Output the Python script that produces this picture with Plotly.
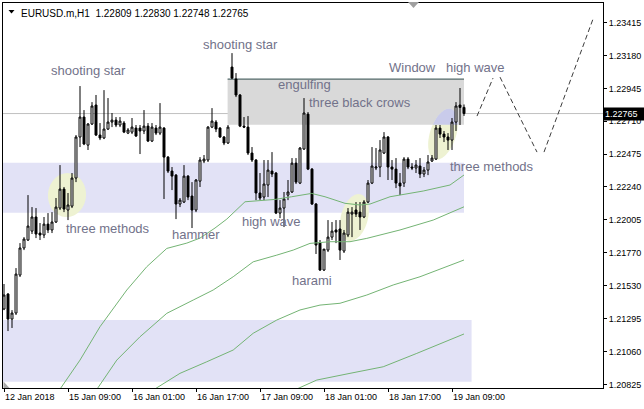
import math
import plotly.graph_objects as go

# ---------------- data ----------------
bars = list(range(116))
opens = [1.21365,1.21472,1.21293,1.21336,1.21608,1.21802,1.21859,1.21923,1.22024,1.21909,
         1.21895,1.21973,1.21931,1.21988,1.22088,1.22224,1.22074,1.22102,1.22303,1.22597,
         1.22740,1.22539,1.22690,1.22826,1.22611,1.22590,1.22654,1.22704,1.22718,1.22683,
         1.22697,1.22625,1.22632,1.22661,1.22661,1.22640,1.22675,1.22568,1.22661,1.22625,
         1.22661,1.22453,1.22353,1.22324,1.22117,1.22131,1.22317,1.22174,1.22074,1.22281,
         1.22425,1.22432,1.22668,1.22704,1.22661,1.22597,1.22554,1.23098,1.23012,1.22898,
         1.22675,1.22668,1.22482,1.22432,1.22196,1.22167,1.22253,1.22353,1.22339,1.22052,
         1.22088,1.22181,1.22203,1.22410,1.22267,1.22511,1.22761,1.22367,1.22117,1.21837,
         1.21644,1.21787,1.21880,1.21931,1.21938,1.21780,1.21895,1.22045,1.22074,1.22059,
         1.22024,1.22131,1.22267,1.22375,1.22382,1.22482,1.22597,1.22382,1.22367,1.22267,
         1.22267,1.22439,1.22382,1.22375,1.22389,1.22332,1.22360,1.22425,1.22439,1.22661,
         1.22618,1.22597,1.22575,1.22704,1.22826,1.22809]
highs = [1.21544,1.21479,1.21357,1.21658,1.21837,1.21880,1.22181,1.22095,1.22088,1.21981,
         1.22024,1.22052,1.22059,1.22160,1.22396,1.22239,1.22196,1.22339,1.22611,1.22962,
         1.22790,1.22697,1.22847,1.22898,1.22697,1.22933,1.22876,1.22769,1.22740,1.22740,
         1.22711,1.22661,1.22733,1.22683,1.22683,1.22790,1.22697,1.22697,1.22683,1.22840,
         1.22668,1.22461,1.22382,1.22332,1.22160,1.22396,1.22324,1.22274,1.22296,1.22453,
         1.22468,1.22675,1.22804,1.22718,1.22668,1.22604,1.22683,1.23198,1.23055,1.22905,
         1.22740,1.22747,1.22525,1.22439,1.22339,1.22432,1.22432,1.22489,1.22346,1.22145,
         1.22203,1.22289,1.22446,1.22446,1.22525,1.22876,1.22776,1.22375,1.22124,1.21859,
         1.21787,1.22002,1.21988,1.22002,1.22002,1.21931,1.22088,1.22095,1.22131,1.22131,
         1.22145,1.22289,1.22525,1.22518,1.22575,1.22632,1.22604,1.22432,1.22446,1.22339,
         1.22453,1.22453,1.22410,1.22432,1.22446,1.22382,1.22468,1.22468,1.22683,1.22683,
         1.22640,1.22625,1.22733,1.22847,1.22948,1.22830]
lows = [1.21357,1.21207,1.21229,1.21322,1.21594,1.21787,1.21852,1.21902,1.21873,1.21859,
        1.21873,1.21909,1.21909,1.21981,1.22074,1.22059,1.22002,1.22088,1.22274,1.22525,
        1.22539,1.22504,1.22683,1.22604,1.22575,1.22582,1.22647,1.22668,1.22668,1.22668,
        1.22625,1.22618,1.22618,1.22597,1.22475,1.22618,1.22561,1.22561,1.22611,1.22611,
        1.22153,1.22339,1.22217,1.22009,1.22095,1.22124,1.22145,1.21945,1.22059,1.22239,
        1.22410,1.22418,1.22661,1.22632,1.22590,1.22539,1.22547,1.23012,1.22883,1.22668,
        1.22661,1.22468,1.22418,1.22145,1.22145,1.22145,1.22167,1.22310,1.22045,1.22016,
        1.21952,1.22145,1.22196,1.22260,1.22260,1.22504,1.22360,1.22110,1.21759,1.21637,
        1.21637,1.21773,1.21859,1.21837,1.21716,1.21766,1.21880,1.21880,1.22024,1.21931,
        1.22016,1.22124,1.22260,1.22360,1.22310,1.22475,1.22289,1.22289,1.22231,1.22181,
        1.22239,1.22367,1.22360,1.22339,1.22303,1.22310,1.22324,1.22418,1.22432,1.22590,
        1.22561,1.22504,1.22504,1.22640,1.22683,1.22748]
closes = [1.21465,1.21293,1.21336,1.21615,1.21802,1.21866,1.21959,1.22024,1.21902,1.21895,
          1.21973,1.21931,1.21988,1.22095,1.22224,1.22081,1.22110,1.22303,1.22597,1.22740,
          1.22547,1.22690,1.22819,1.22611,1.22590,1.22654,1.22704,1.22718,1.22683,1.22711,
          1.22632,1.22647,1.22668,1.22604,1.22640,1.22675,1.22568,1.22668,1.22625,1.22668,
          1.22453,1.22353,1.22317,1.22117,1.22145,1.22317,1.22167,1.22074,1.22289,1.22432,
          1.22439,1.22668,1.22711,1.22654,1.22597,1.22554,1.22668,1.23019,1.22898,1.22675,
          1.22668,1.22482,1.22432,1.22196,1.22160,1.22260,1.22360,1.22332,1.22052,1.22088,
          1.22153,1.22203,1.22410,1.22274,1.22518,1.22769,1.22367,1.22117,1.21823,1.21644,
          1.21794,1.21880,1.21923,1.21916,1.21787,1.21909,1.22059,1.22059,1.22045,1.22024,
          1.22131,1.22267,1.22389,1.22382,1.22504,1.22597,1.22382,1.22367,1.22267,1.22246,
          1.22439,1.22382,1.22375,1.22396,1.22332,1.22360,1.22418,1.22446,1.22661,1.22618,
          1.22597,1.22575,1.22704,1.22819,1.22809,1.22765]

ma_a_idx = [13.5, 19, 24, 30.7, 35.7, 40.7, 45.7, 49, 52.75, 55.7, 60.25, 67.75, 71.9, 76.9,
            80.25, 85.25, 89, 91.5, 96.5, 104.8, 111.5, 115]
ma_a_val = [1.20770, 1.20999, 1.21238, 1.21501, 1.21668, 1.21799, 1.21837, 1.21873, 1.21945,
            1.22009, 1.22133, 1.22150, 1.22169, 1.22193, 1.22169, 1.22122, 1.22110, 1.22117,
            1.22169, 1.22210, 1.22253, 1.22325]
ma_b_idx = [22.75, 28.2, 34, 40.7, 47.3, 52.3, 57.3, 62.3, 68.2, 72.3, 76.5, 81.5, 86.5, 90.7,
            99, 107.3, 115]
ma_b_val = [1.20770, 1.20999, 1.21166, 1.21334, 1.21429, 1.21501, 1.21596, 1.21703, 1.21751,
            1.21787, 1.21835, 1.21847, 1.21847, 1.21871, 1.21931, 1.22002, 1.22097]
ma_c_idx = [36.5, 44, 50.7, 57.3, 62.3, 68.2, 74, 79, 84, 90.7, 97.3, 104, 115]
ma_c_val = [1.20770, 1.20904, 1.20987, 1.21071, 1.21191, 1.21286, 1.21358, 1.21393, 1.21406,
            1.21465, 1.21537, 1.21596, 1.21716]
ma_d_idx = [71.5, 78.2, 86.5, 94.8, 103.2, 115]
ma_d_val = [1.20770, 1.20856, 1.20904, 1.20951, 1.21047, 1.21186]

zigzag_segments = [
    ([118.25, 122.25], [1.22747, 1.23019]),
    ([124.0, 133.25], [1.23026, 1.22489]),
    ([135.0, 147.25], [1.22489, 1.23442]),
]

x_tick_idx = [0, 16, 32, 48, 64, 80, 96, 112]
x_tick_text = ["12 Jan 2018", "15 Jan 09:00", "16 Jan 01:00", "16 Jan 17:00",
               "17 Jan 09:00", "18 Jan 01:00", "18 Jan 17:00", "19 Jan 09:00"]
y_tick_vals = [1.23415, 1.23180, 1.22945, 1.22710, 1.22475, 1.22240, 1.22005,
               1.21770, 1.21530, 1.21295, 1.21060, 1.20825]

last_price = 1.22765
title_text = "EURUSD.m,H1\u00a0\u00a01.22809 1.22830 1.22748 1.22765"

# zones: (x0 idx, x1 idx, y0 price, y1 price)
window_zone = (55.9, 115.0, 1.22685, 1.23012)
band_zones = [(-2, 115.0, 1.22054, 1.22413), (-2, 116.9, 1.20844, 1.21286)]

# pattern labels: (text, bar idx, price)
labels = [
    ("shooting star", 21.2, 1.23071),
    ("shooting star", 59.1, 1.23257),
    ("engulfing", 75.1, 1.22971),
    ("three black crows", 89.0, 1.22842),
    ("Window", 102.0, 1.23095),
    ("high wave", 117.9, 1.23095),
    ("three methods", 122.0, 1.22385),
    ("three methods", 26.0, 1.21939),
    ("hammer", 48.1, 1.21896),
    ("high wave", 66.9, 1.21991),
    ("harami", 77.1, 1.21567),
]

# highlight ellipses: (center idx, center price, semi-major px, semi-minor px, tilt deg)
ellipses = [
    (15.75, 1.22181, 22, 19, 5),
    (87.6, 1.22020, 24, 13.5, 15),
    (109.75, 1.22618, 26.5, 13, 18),
]

# ---------------- layout geometry ----------------
W, H = 644, 409
ML, MR, MT, MB = 3, 41, 3, 21
XR = [-0.25, 149.75]
YR = [1.20799, 1.23557]
PW, PH = W - ML - MR, H - MT - MB
PX_PER_BAR = PW / (XR[1] - XR[0])
PX_PER_PRICE = PH / (YR[1] - YR[0])


def ellipse_pts(cx, cy, a, b, tilt, n=72):
    th = math.radians(tilt)
    pts = []
    for k in range(n):
        t = 2 * math.pi * k / n
        u = b * math.cos(t)
        v = a * math.sin(t)
        dx = u * math.cos(th) + v * math.sin(th)
        dy = u * math.sin(th) - v * math.cos(th)
        pts.append((cx + dx / PX_PER_BAR, cy - dy / PX_PER_PRICE))
    return pts


def clip_above(pts, level):
    out = []
    n = len(pts)
    for i in range(n):
        p, q = pts[i], pts[(i + 1) % n]
        pin, qin = p[1] >= level, q[1] >= level
        if pin:
            out.append(p)
        if pin != qin:
            t = (level - p[1]) / (q[1] - p[1])
            out.append((p[0] + t * (q[0] - p[0]), level))
    return out


def to_path(pts):
    return "M " + " L ".join(f"{x:.4f},{y:.6f}" for x, y in pts) + " Z"


def px2paper(px, py):
    return (px - ML) / PW, (H - MB - py) / PH


fig = go.Figure()

# moving averages
for xi, yv in [(ma_a_idx, ma_a_val), (ma_b_idx, ma_b_val), (ma_c_idx, ma_c_val), (ma_d_idx, ma_d_val)]:
    fig.add_trace(go.Scatter(x=xi, y=yv, mode="lines", line=dict(color="#74b474", width=1),
                             hoverinfo="skip", showlegend=False))

fig.add_trace(go.Candlestick(
    x=bars, open=opens, high=highs, low=lows, close=closes,
    increasing=dict(line=dict(color="black", width=1), fillcolor="white"),
    decreasing=dict(line=dict(color="black", width=1), fillcolor="black"),
    whiskerwidth=0, showlegend=False))

for xs, ys in zigzag_segments:
    fig.add_trace(go.Scatter(x=xs, y=ys, mode="lines",
                             line=dict(color="#3c3c3c", width=1, dash="5px,3px"),
                             hoverinfo="skip", showlegend=False))

shapes = []
for x0, x1, y0, y1 in band_zones:
    shapes.append(dict(type="rect", xref="x", yref="y", x0=x0, x1=x1, y0=y0, y1=y1,
                       fillcolor="#e2e2f6", line=dict(width=0), layer="below"))
wx0, wx1, wy0, wy1 = window_zone
shapes.append(dict(type="rect", xref="x", yref="y", x0=wx0, x1=wx1, y0=wy0, y1=wy1,
                   fillcolor="#d9d9d9", line=dict(width=0), layer="below"))
for cx, cy, a, b, tilt in ellipses:
    pts = ellipse_pts(cx, cy, a, b, tilt)
    shapes.append(dict(type="path", xref="x", yref="y", path=to_path(pts),
                       fillcolor="#eef2d2", line=dict(width=0), layer="below"))
    part = clip_above(pts, wy0)
    if len(part) > 2:
        shapes.append(dict(type="path", xref="x", yref="y", path=to_path(part),
                           fillcolor="#c9cbeb", line=dict(width=0), layer="below"))
shapes.append(dict(type="line", xref="x", yref="y", x0=wx0, x1=wx1, y0=wy1, y1=wy1,
                   line=dict(color="#2f4a4a", width=1), layer="below"))
shapes.append(dict(type="line", xref="paper", yref="y", x0=0, x1=1, y0=last_price, y1=last_price,
                   line=dict(color="#c0c0c0", width=1), layer="below"))

# small markers
def tri(points, color):
    pp = [px2paper(*p) for p in points]
    path = "M " + " L ".join(f"{x:.5f},{y:.5f}" for x, y in pp) + " Z"
    return dict(type="path", xref="paper", yref="paper", path=path,
                fillcolor=color, line=dict(width=0))

shapes.append(tri([(408, 2), (419, 2), (413.5, 8)], "#a0a0a0"))
shapes.append(tri([(3.5, 381.5), (3.5, 388), (9.5, 388)], "#a8a8a8"))
shapes.append(tri([(8.5, 10), (14.5, 10), (11.5, 13.5)], "#000000"))

annotations = []
for text, xi, yp in labels:
    annotations.append(dict(text=text, x=xi, y=yp, xref="x", yref="y", showarrow=False,
                            xanchor="center", yanchor="middle",
                            font=dict(family="Liberation Sans", size=13, color="#72728a")))
annotations.append(dict(text=title_text, x=0, y=1, xref="paper", yref="paper", showarrow=False,
                        xanchor="left", yanchor="top", xshift=16, yshift=-3,
                        font=dict(family="Liberation Sans", size=10, color="black")))
annotations.append(dict(text=f"{last_price:.5f}", x=1, y=last_price, xref="paper", yref="y",
                        showarrow=False, xanchor="left", yanchor="middle", xshift=0,
                        bgcolor="black", borderpad=1, width=39, align="left",
                        font=dict(family="Liberation Sans", size=9, color="white")))

fig.update_layout(
    width=W, height=H, autosize=False,
    margin=dict(l=ML, r=MR, t=MT, b=MB),
    paper_bgcolor="white", plot_bgcolor="white",
    shapes=shapes, annotations=annotations, showlegend=False,
    hovermode=False,
)
fig.update_xaxes(range=XR, showline=True, mirror=True, linecolor="black", linewidth=1,
                 ticks="outside", ticklen=3, tickcolor="black",
                 tickvals=x_tick_idx, ticktext=x_tick_text, ticklabelposition="outside right",
                 showgrid=False, zeroline=False, rangeslider=dict(visible=False),
                 tickfont=dict(family="Liberation Sans", size=9, color="black"))
fig.update_yaxes(range=YR, side="right", showline=True, mirror=True, linecolor="black",
                 linewidth=1, ticks="outside", ticklen=3, tickcolor="black",
                 tickvals=y_tick_vals, ticktext=[f"{v:.5f}" for v in y_tick_vals],
                 showgrid=False, zeroline=False,
                 tickfont=dict(family="Liberation Sans", size=9, color="black"))

fig.write_html("out.html", config={"displayModeBar": False},
               post_script="document.body.style.margin='0';document.body.style.padding='0';"
                           "document.body.style.overflow='hidden';")
